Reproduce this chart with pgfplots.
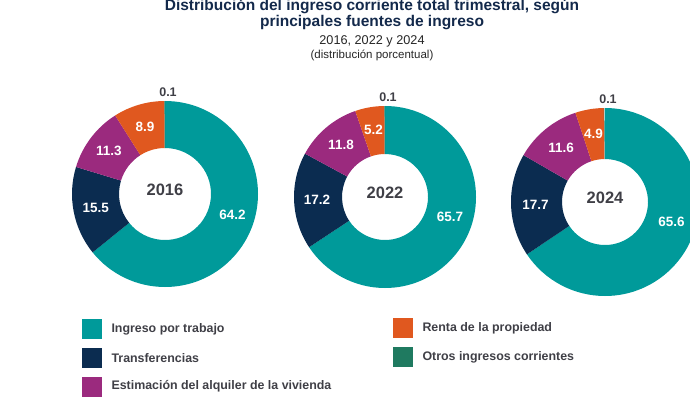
\documentclass[border=0pt]{standalone}
\usepackage{pgfplots}
\pgfplotsset{compat=1.18}
\usepackage{pgfplotstable}
\usetikzlibrary{calc}
\usepackage{fontspec}
\setmainfont{Liberation Sans}

\definecolor{cTrab}{HTML}{009A9A}
\definecolor{cTrans}{HTML}{0B2C50}
\definecolor{cAlq}{HTML}{9B2A7E}
\definecolor{cRenta}{HTML}{E0581F}
\definecolor{cOtros}{HTML}{1F7A60}
\definecolor{cTxt}{HTML}{3F3F46}
\definecolor{cTitle}{HTML}{13294B}

% share of total current quarterly income (percent)
\pgfplotstableread[col sep=comma]{
fuente,color,y2016,y2022,y2024
Ingreso por trabajo,cTrab,64.2,65.7,65.6
Transferencias,cTrans,15.5,17.2,17.7
Estimación del alquiler de la vivienda,cAlq,11.3,11.8,11.6
Renta de la propiedad,cRenta,8.9,5.2,4.9
Otros ingresos corrientes,cOtros,0.1,0.1,0.1
}\ingresos

\newcommand\fs[1]{\fontsize{#1}{#1}\selectfont}

% #1 centre coordinate, #2 column, #3 outer radius, #4 inner radius, #5 year
\newcommand\donut[5]{%
  \pgfplotstablegetrowsof{\ingresos}\pgfmathtruncatemacro\last{\pgfplotsretval-1}%
  \gdef\cum{0}%
  \foreach \i in {0,...,\last}{%
    \pgfplotstablegetelem{\i}{#2}\of\ingresos \let\v\pgfplotsretval
    \pgfplotstablegetelem{\i}{color}\of\ingresos \let\col\pgfplotsretval
    \pgfmathsetmacro\aone{90-3.6*\cum}%
    \pgfmathsetmacro\atwo{90-3.6*(\cum+\v)}%
    \fill[fill=\col] ($(#1)+(\aone:#3pt)$) arc[start angle=\aone,end angle=\atwo,radius=#3pt]
      -- ($(#1)+(\atwo:#4pt)$) arc[start angle=\atwo,end angle=\aone,radius=#4pt] -- cycle;
    \pgfmathsetmacro\rm{(#3+#4)/2+1}%
    \ifnum\i=0 \def\am{-17}\else\pgfmathsetmacro\am{90-3.6*(\cum+\v/2)}\fi
    \ifnum\i=\last
      \node[text=cTxt,font=\bfseries\fs{12.5}] at ($(#1)+(3pt,#3pt+9pt)$) {\v};
    \else
      \node[text=white,font=\bfseries\fs{13.5}] at ($(#1)+(\am:\rm pt)$) {\v};
    \fi
    \pgfmathsetmacro\newcum{\cum+\v}\xdef\cum{\newcum}%
  }%
  \node[text=cTxt,font=\bfseries\fs{16.5}] at ($(#1)+(0pt,4pt)$) {#5};
}

\begin{document}
\begin{tikzpicture}[x=1pt,y=1pt]
\useasboundingbox (0,0) rectangle (690,397);
\clip (0,0) rectangle (690,397);
\begin{axis}[at={(0,0)},anchor=south west,x=1pt,y=1pt,
  xmin=0,xmax=690,ymin=0,ymax=397,hide axis,clip=false]
  \coordinate (c2016) at (axis cs:165,203);
  \coordinate (c2022) at (axis cs:385,200);
  \coordinate (c2024) at (axis cs:605,195);
\end{axis}

\donut{c2016}{y2016}{93}{46}{2016}
\donut{c2022}{y2022}{91}{43}{2022}
\donut{c2024}{y2024}{94}{43}{2024}

% titles
\node[anchor=base,text=cTitle,font=\bfseries\fs{15.5}] at (372,386) {Distribución del ingreso corriente total trimestral, según};
\node[anchor=base,text=cTitle,font=\bfseries\fs{15.5}] at (372,370.5) {principales fuentes de ingreso};
\node[anchor=base,text=black!85,font=\fs{12.7}] at (372,352.5) {2016, 2022 y 2024};
\node[anchor=base,text=black!85,font=\fs{11.5}] at (372,338) {(distribución porcentual)};

% legend
\foreach \i/\x/\y in {0/82/58, 1/82/29, 2/82/0.5, 3/393/59, 4/393/30}{
  \pgfplotstablegetelem{\i}{color}\of\ingresos \let\col\pgfplotsretval
  \pgfplotstablegetelem{\i}{fuente}\of\ingresos \let\nm\pgfplotsretval
  \fill[fill=\col] (\x,\y) rectangle ++(20,20);
  \node[anchor=west,text=cTxt,font=\bfseries\fs{12.4}] at (\x+26,\y+10) {\nm};
}
\end{tikzpicture}
\end{document}
